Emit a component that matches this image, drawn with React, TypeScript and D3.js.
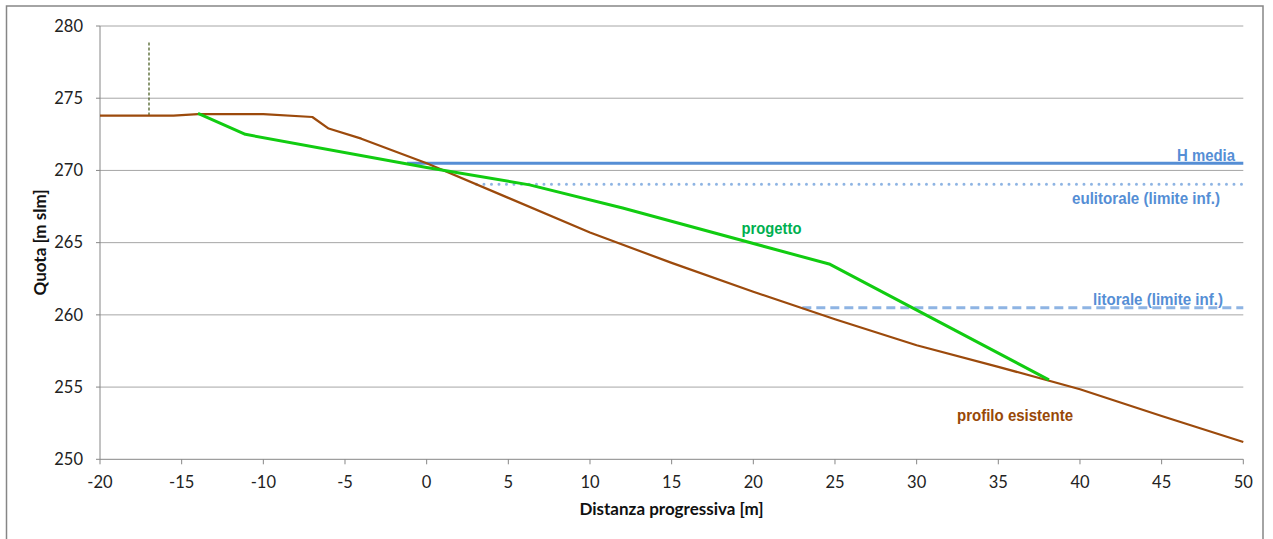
import React from "react";
import * as d3 from "d3";

const profiloX = [-20, -15.5, -14, -10, -7, -6, -4, 0, 5, 10, 15, 20, 25, 30, 35, 40, 45, 50];
const profiloY = [273.8, 273.8, 273.9, 273.9, 273.7, 272.9, 272.2, 270.5, 268.1, 265.7, 263.6, 261.6, 259.7, 257.9, 256.4, 254.85, 253.0, 251.2];
const progettoX = [-14, -11.1, 0, 6.3, 12, 24.7, 38.1];
const progettoY = [273.95, 272.5, 270.2, 269.0, 267.4, 263.5, 255.5];
const hMedia = { value: 270.5, from: -1.2, to: 50 };
const eulitorale = { value: 269.05, from: 3.05, to: 50 };
const litorale = { value: 260.5, from: 23, to: 50 };
const markerX = -17;
const markerY = [273.8, 278.9];
const xTicks = [-20, -15, -10, -5, 0, 5, 10, 15, 20, 25, 30, 35, 40, 45, 50];
const yTicks = [250, 255, 260, 265, 270, 275, 280];

const W = 1273;
const H = 539;
const left = 100, right = 1243.3, top = 26, bottom = 459.3;

export default function App() {
  const x = d3.scaleLinear().domain([-20, 50]).range([left, right]);
  const y = d3.scaleLinear().domain([250, 280]).range([bottom, top]);
  const line = d3.line<[number, number]>().x((d) => x(d[0])).y((d) => y(d[1]));
  const prof = profiloX.map((v, i) => [v, profiloY[i]] as [number, number]);
  const prog = progettoX.map((v, i) => [v, progettoY[i]] as [number, number]);
  const tickFont = "Lato, 'Open Sans', sans-serif";
  const narrow = "'Liberation Sans', Arial, sans-serif";
  const lbl = (props: any, txt: string, len: number) => (
    <text {...props} fontFamily={narrow} fontWeight="bold" fontSize={17} textLength={len} lengthAdjust="spacingAndGlyphs">
      {txt}
    </text>
  );
  return (
    <svg width={W} height={H} style={{ position: "absolute", left: 0, top: 0, background: "#fff" }}>
      <rect x={6.5} y={6} width={1256.5} height={540} fill="#fff" stroke="#868686" strokeWidth={1.5} />
      {yTicks.filter((t) => t !== 250).map((t) => (
        <line key={t} x1={left} x2={right} y1={y(t)} y2={y(t)} stroke="#A6A6A6" strokeWidth={1} />
      ))}
      <line x1={left} x2={left} y1={top} y2={bottom} stroke="#868686" strokeWidth={1} />
      <line x1={left} x2={right} y1={bottom} y2={bottom} stroke="#868686" strokeWidth={1} />
      {yTicks.map((t) => (
        <g key={t}>
          <line x1={left - 4} x2={left} y1={y(t)} y2={y(t)} stroke="#868686" />
          <text x={83} y={y(t)} dy="0.35em" textAnchor="end" fontFamily={tickFont} fontSize={16.5} fill="#222">
            {t}
          </text>
        </g>
      ))}
      {xTicks.map((t) => (
        <g key={t}>
          <line x1={x(t)} x2={x(t)} y1={bottom} y2={bottom + 5} stroke="#868686" />
          <text x={x(t)} y={488} textAnchor="middle" fontFamily={tickFont} fontSize={16.5} fill="#222">
            {t}
          </text>
        </g>
      ))}
      <text x={671.5} y={515} textAnchor="middle" fontFamily={tickFont} fontWeight="bold" fontSize={17} fill="#111">
        Distanza progressiva [m]
      </text>
      <text transform="translate(46,242.5) rotate(-90)" textAnchor="middle" fontFamily={tickFont} fontWeight="bold" fontSize={17} fill="#111">
        Quota [m slm]
      </text>
      <line x1={x(eulitorale.from)} x2={x(eulitorale.to)} y1={y(eulitorale.value)} y2={y(eulitorale.value)} stroke="#8EB4E3" strokeWidth={3} strokeDasharray="0 7.5" strokeLinecap="round" />
      <line x1={x(litorale.from)} x2={x(litorale.to)} y1={y(litorale.value)} y2={y(litorale.value)} stroke="#8EB4E3" strokeWidth={3} strokeDasharray="9 5" />
      <line x1={x(hMedia.from)} x2={x(hMedia.to)} y1={y(hMedia.value)} y2={y(hMedia.value)} stroke="#558ED5" strokeWidth={3} />
      <line x1={x(markerX)} x2={x(markerX)} y1={y(markerY[0])} y2={y(markerY[1])} stroke="#4F6228" strokeWidth={1.3} strokeDasharray="3 2" />
      <path d={line(prof) || ""} fill="none" stroke="#9C4A0C" strokeWidth={2.2} strokeLinejoin="round" />
      <path d={line(prog) || ""} fill="none" stroke="#11CC11" strokeWidth={3} strokeLinejoin="round" />
      {lbl({ x: 1177, y: 160.5, fill: "#558ED5" }, "H media", 58)}
      {lbl({ x: 1072, y: 203.5, fill: "#558ED5" }, "eulitorale (limite inf.)", 148)}
      {lbl({ x: 1093, y: 305, fill: "#558ED5" }, "litorale (limite inf.)", 130)}
      {lbl({ x: 741.5, y: 234, fill: "#00B050" }, "progetto", 60)}
      {lbl({ x: 957, y: 421, fill: "#984807" }, "profilo esistente", 116)}
    </svg>
  );
}
